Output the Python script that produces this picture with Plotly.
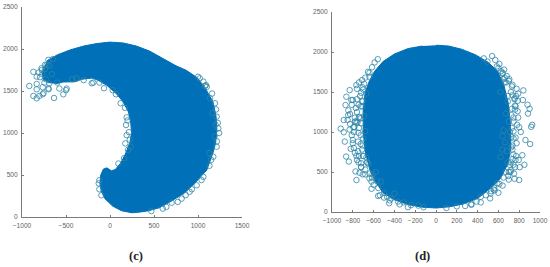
#!/bin/env python

import plotly.graph_objects as go

# ------------------------------------------------------------------------------
# Values

TICK_FONT = dict(family="Liberation Sans", size=6.6, color="#5f5f5f")
AXIS_COLOR = "#7a7a7a"
BLUE = "#0070b9"
RING = "#2f86a8"

c_xticks = [-1000, -500, 0, 500, 1000, 1500]
d_xticks = [-1000, -800, -600, -400, -200, 0, 200, 400, 600, 800, 1000]
yticks = [0, 500, 1000, 1500, 2000, 2500]

# (c) the solid crescent, clockwise from its left tip
c_body_x = [-716, -648, -600, -450, -300, -150, 0, 150, 300, 450, 600, 750, 870, 988, 1080, 1170, 1205, 1215, 1200,
            1170, 1100, 966, 850, 700, 560, 440, 350, 250, 130, 30, -60, -100, -115, -105, -75, -35, 15, 60,
            120, 175, 225, 245, 235, 210, 150, 70, -40, -140, -205, -320, -400, -534, -600, -700, -760, -770]
c_body_y = [1860, 1904, 1930, 1990, 2035, 2065, 2082, 2072, 2035, 1975, 1885, 1800, 1745, 1660, 1540, 1370, 1200, 1030, 880,
            762, 559, 405, 290, 190, 110, 75, 60, 50, 75, 130, 220, 310, 400, 500, 570, 585, 550, 565,
            640, 750, 880, 1000, 1130, 1250, 1370, 1470, 1570, 1630, 1654, 1640, 1610, 1607, 1590, 1600, 1640, 1740]

# (c) circles that can be told apart around the edge
c_ring_x = [-917, -871, -871, -833, -803, -833, -833, -765, -765, -755, -636, -530, -492, -500, -576, -697, -777, -833,
            -795, -739, -700, -810, -770, -730, -690, -745, -660, -600, -430, -380, -208, -190, -68, 68, 121, 189, 182,
            189, 174, 235, 95, -121, -121, -98, -128, 1231, 1212, 1193, 1136, 1061, 1212, 1174, 1061, 985, 814, 1240,
            1225, 1205, 1160, 1100, 1020, 1190, 1215, 1130, 905, 1200, 1165, 1090, -740, -690, -650, -300, -120, 30, 170,
            200, 215, 225, 205, 160, 700, 600, 470, 1150, 1130, 1040, 930, 860, 770, 640, 1080, 1000, -720, -775, -700]
c_ring_y = [1560, 1728, 1441, 1413, 1441, 1520, 1584, 1461, 1545, 1475, 1417, 1461, 1529, 1510, 1529, 1520, 1771, 1672,
            1664, 1811, 1871, 1720, 1700, 1640, 1590, 1600, 1700, 1600, 1640, 1650, 1592, 1600, 1533, 1461, 1354, 1186, 1095,
            975, 876, 836, 637, 438, 330, 259, 400, 1055, 1194, 1354, 1413, 1612, 836, 717, 478, 378, 219, 1000,
            1120, 1280, 1470, 1550, 1650, 960, 900, 760, 300, 1100, 1240, 1570, 1760, 1800, 1880, 1630, 1600, 1510, 1300,
            1150, 1010, 920, 800, 700, 170, 100, 70, 680, 610, 440, 330, 260, 180, 120, 1560, 1670, 1810, 1750, 1530]

# (d) the solid disc, clockwise from the top
d_body_x = [0, 120, 246, 380, 503, 590, 650, 695, 715, 720, 690, 620, 518, 400, 260, 130, 0,
            -130, -260, -396, -510, -590, -635, -680, -700, -700, -680, -640, -590, -510, -400, -268, -130]
d_body_y = [2085, 2075, 2035, 1965, 1870, 1760, 1600, 1360, 1100, 800, 600, 420, 290, 170, 100, 65, 50,
            60, 90, 150, 240, 400, 525, 750, 1000, 1275, 1500, 1640, 1760, 1880, 1975, 2043, 2075]

# (d) circles around the disc, left flank then bottom then right flank
d_ring_x = [-916, -887, -877, -864, -838, -765, -774, -735, -705, -830, -862, -870, -887, -814, -766, -711, -654, -827,
            -795, -843, -780, -827, -750, -750, -711, -670, -620, -556, -445, -350, -270, -850, -845, -830, -810, -790,
            -770, -745, -730, -720, -700, -690, -680, -760, -775, -800, -820, -740, -725, -700, -680, -690, -705, -670,
            -650, -640, -615, -600, -580, -555, -530, -500, -470, -430, -400, -365, -310, -240, -170,
            -120, 100, 200, 340, 430, 520, 565, 600, 700, 755, 800, 750, 805, 745, 850, 795, 905, 830, 915, 860, 925,
            885, 900, 880, 840, 835, 770, 705, 640, 600, 650, 720, 690, 730, 760, 700, 670, 650, 640, 620, 680, 735, 770,
            815, 780, 745, 710, 665, 640, 620, 690, 720, 735, 760, 710, 670, 650, 640, 590, 560, 530, 480, 430, 690, 660, 625,
            -755, -735, -790, -765, -810, -720, -745, -700, -665, -720, -680, -640, -610, -570, -725, -705, 745, 760, 730,
            790, 735, 775, 720, 700, 755, 730, 790, 700, 680, 655, 610, 570, 540,
            -800, -780, -760, -740, -725, -710, -800, -785, -765, -745, -725, -710, -780, -760, -740, -720, -705, -760, -740,
            -720, -700, -680, -660, -640, -620, -640, -615, -590, -560, 725, 745, 765, 785, 800, 725, 745, 765, 785, 735, 755,
            775, 725, 745, 765, 735, 715, 695, 675, 660, 640, 610, 585, 555, 525, 495, 460, -450, -500, -540, 390, 340, 280]
d_ring_y = [1042, 997, 880, 693, 631, 399, 507, 490, 470, 1524, 1441, 1337, 1150, 1400, 1586, 1649, 1752, 1225,
            1060, 1270, 1180, 1100, 880, 760, 780, 680, 290, 200, 145, 95, 60, 1150, 1210, 1030, 960, 1000,
            1300, 1340, 1450, 1490, 1530, 1600, 1680, 1250, 1130, 900, 790, 1050, 850, 920, 1010, 1200, 1390, 1480,
            600, 480, 430, 340, 500, 300, 380, 240, 190, 170, 230, 130, 120, 85, 80,
            60, 50, 70, 90, 120, 170, 270, 240, 405, 415, 400, 480, 560, 590, 590, 650, 850, 710, 1065, 900, 1090,
            1230, 1290, 1340, 1520, 1400, 1450, 1660, 1730, 1800, 1660, 1500, 1380, 1290, 1330, 1130, 1230, 1020, 950, 1500, 760, 830, 700,
            1000, 1090, 920, 1000, 870, 780, 690, 620, 520, 660, 560, 590, 500, 430, 330, 360, 300, 260, 210, 190, 1450, 1620, 1760,
            1120, 1190, 800, 700, 1340, 1110, 620, 700, 620, 560, 530, 420, 470, 390, 1320, 1560, 1180, 1280, 1050,
            1180, 780, 860, 620, 500, 1420, 1570, 1480, 1640, 1700, 1780, 1850, 1900, 1950,
            1400, 1130, 1410, 1180, 960, 1380, 860, 1060, 1120, 990, 1170, 1320, 740, 650, 700, 610, 830, 1540, 1620,
            560, 700, 470, 620, 1690, 380, 1740, 1810, 1870, 1910, 1210, 1130, 1320, 1260, 1060, 940, 1010, 930, 1390, 1460,
            1410, 1540, 810, 720, 650, 1590, 500, 450, 1620, 1680, 1740, 350, 1820, 280, 230, 1880, 1920, 110, 180, 210, 130, 100, 75]

# ------------------------------------------------------------------------------

fig = go.Figure()

fig.add_trace(go.Scatter(x=c_body_x, y=c_body_y, mode="lines", fill="toself", fillcolor=BLUE,
                         line=dict(color=BLUE, width=1), xaxis="x", yaxis="y"))
fig.add_trace(go.Scatter(x=c_ring_x, y=c_ring_y, mode="markers", xaxis="x", yaxis="y",
                         marker=dict(symbol="circle-open", size=5.5, color=RING, line=dict(width=0.8, color=RING))))

fig.add_trace(go.Scatter(x=d_body_x, y=d_body_y, mode="lines", fill="toself", fillcolor=BLUE,
                         line=dict(color=BLUE, width=1), xaxis="x2", yaxis="y2"))
fig.add_trace(go.Scatter(x=d_ring_x, y=d_ring_y, mode="markers", xaxis="x2", yaxis="y2",
                         marker=dict(symbol="circle-open", size=5.5, color=RING, line=dict(width=0.8, color=RING))))

# default template turns automargin on, which shifts the axes off their places
axis_style = dict(showgrid=False, zeroline=False, showline=True, linecolor=AXIS_COLOR, linewidth=1, automargin=False,
                  ticks="inside", ticklen=2, tickcolor=AXIS_COLOR, tickfont=TICK_FONT, tickangle=0)
x_style = dict(ticklabelstandoff=2, **axis_style)
y_style = dict(ticklabelstandoff=2, **axis_style)

fig.update_layout(
    width=550, height=267, margin=dict(l=0, r=0, t=0, b=0),
    paper_bgcolor="white", plot_bgcolor="white", showlegend=False,
    xaxis=dict(domain=[22 / 550, 242 / 550], range=[-1000, 1500], tickvals=c_xticks, anchor="y", **x_style),
    yaxis=dict(domain=[50 / 267, 260 / 267], range=[0, 2500], tickvals=yticks, anchor="x", **y_style),
    xaxis2=dict(domain=[332 / 550, 540 / 550], range=[-1000, 1000], tickvals=d_xticks, anchor="y2", **x_style),
    yaxis2=dict(domain=[55 / 267, 255 / 267], range=[0, 2500], tickvals=yticks, anchor="x2", **y_style),
    annotations=[
        dict(text="<b>(c)</b>", xref="paper", yref="paper", x=126.5 / 550, y=11 / 267, yanchor="middle", showarrow=False,
             font=dict(family="Liberation Serif", size=12.5, color="#222222")),
        dict(text="<b>(d)</b>", xref="paper", yref="paper", x=431.5 / 550, y=11 / 267, yanchor="middle", showarrow=False,
             font=dict(family="Liberation Serif", size=12.5, color="#222222")),
    ],
)

# the page's default body margin would push the figure 8 px in
fig.write_html("out.html", config={"displayModeBar": False}, post_script="document.body.style.margin = '0';")
